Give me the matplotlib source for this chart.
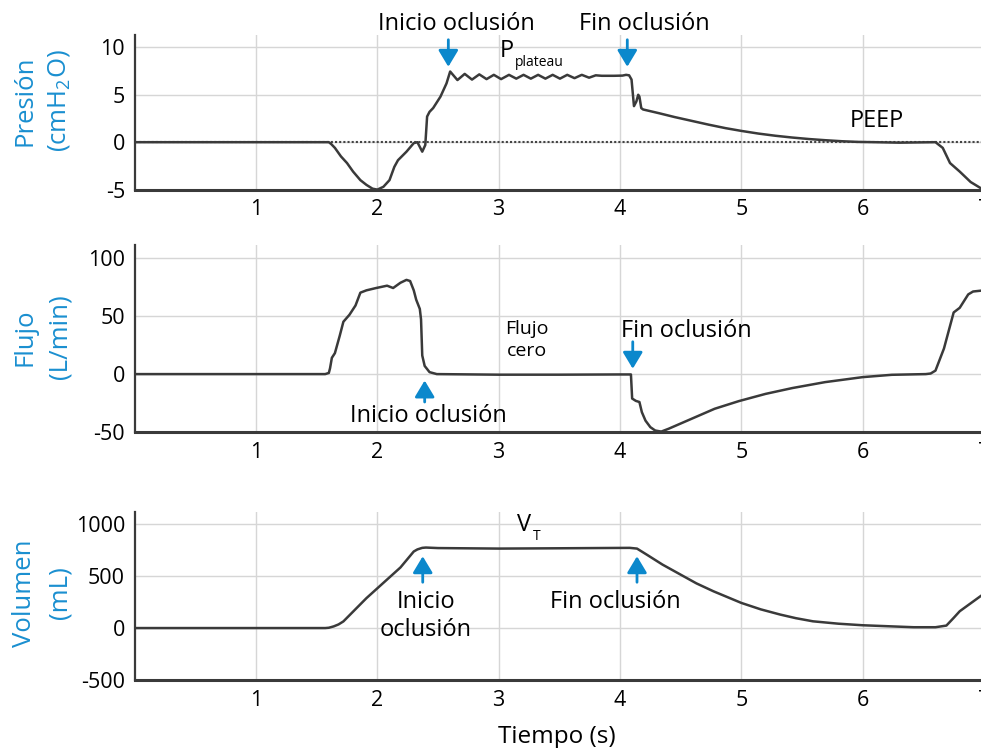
import matplotlib.pyplot as plt

plt.rcParams['font.family'] = 'Open Sans'
plt.rcParams['mathtext.fontset'] = 'custom'
plt.rcParams['mathtext.rm'] = 'Open Sans'
plt.rcParams['mathtext.it'] = 'Open Sans:italic'
plt.rcParams['axes.unicode_minus'] = False

BLUE = '#1a8fd0'
ARROW = '#0b88cc'
LINE = '#3a3a3a'
GRID = '#d6d6d6'

# pressure (cmH2O)
t_pres = [0, 1.60, 1.62, 1.65, 1.70, 1.75, 1.80, 1.86, 1.91, 1.96, 2.00, 2.05,
          2.10, 2.14, 2.17, 2.24, 2.30, 2.33, 2.37, 2.395, 2.41, 2.43, 2.46,
          2.52, 2.57, 2.60, 2.66, 2.72, 2.78, 2.84, 2.90, 2.96, 3.02, 3.085,
          3.145, 3.205, 3.265, 3.325, 3.385, 3.445, 3.505, 3.565, 3.625,
          3.685, 3.745, 3.80, 3.85, 3.95, 4.02, 4.05, 4.075, 4.095, 4.105,
          4.115, 4.135, 4.15, 4.16, 4.175, 4.19, 4.32, 4.45, 4.59, 4.73, 4.87,
          5.00, 5.14, 5.28, 5.42, 5.56, 5.69, 5.83, 5.96, 6.10, 6.30, 6.60,
          6.66, 6.72, 6.80, 6.89, 6.98, 7.0]
pres = [0, 0, -0.2, -0.6, -1.5, -2.2, -3.1, -4.0, -4.5, -4.9, -5.0, -4.7,
        -4.0, -2.6, -1.9, -1.0, -0.1, 0.0, -1.0, -0.3, 2.7, 3.2, 3.6,
        4.8, 6.2, 7.45, 6.55, 7.2, 6.6, 7.15, 6.65, 7.1, 6.65, 7.1,
        6.7, 7.1, 6.7, 7.1, 6.7, 7.1, 6.7, 7.1, 6.75,
        7.1, 6.8, 7.05, 7.0, 7.0, 7.02, 7.1, 7.05, 6.6, 5.2,
        3.8, 4.3, 5.0, 4.8, 3.6, 3.45, 3.06, 2.65, 2.25, 1.85, 1.48,
        1.19, 0.91, 0.68, 0.49, 0.33, 0.21, 0.10, 0.03, 0.0, -0.05, 0.0,
        -0.6, -2.2, -3.1, -4.2, -4.9, -5.0]

# flow (L/min)
t_flow = [0, 1.57, 1.60, 1.61, 1.625, 1.65, 1.69, 1.72, 1.77, 1.82, 1.86,
          1.91, 1.99, 2.08, 2.13, 2.19, 2.24, 2.27, 2.30, 2.32, 2.35, 2.36,
          2.37, 2.39, 2.43, 2.49, 3.0, 3.5, 4.0, 4.09, 4.10, 4.13, 4.16,
          4.18, 4.21, 4.25, 4.29, 4.34, 4.40, 4.59, 4.78, 4.98, 5.20, 5.42,
          5.69, 6.00, 6.24, 6.52, 6.56, 6.60, 6.67, 6.75, 6.80, 6.87, 6.91,
          7.0]
flow = [0, 0, 1, 5, 14, 18, 33, 45, 51, 59, 70,
        72, 74, 76, 74, 78.5, 81, 80, 72, 64, 56, 47,
        16, 7, 1.7, 0, -0.5, -0.5, -0.3, -0.3, -21, -23, -24,
        -32.7, -40, -45.6, -48.5, -49.4, -47, -38.4, -29.8, -23.2, -17, -12,
        -6.9, -2.6, -0.6, 0, 0.5, 3, 22, 53, 57, 68.5, 71,
        72]

# volume (mL)
t_vol = [0, 1.57, 1.60, 1.64, 1.68, 1.72, 1.91, 2.19, 2.30, 2.33, 2.37, 2.40,
         2.5, 3.0, 3.5, 4.08, 4.14, 4.22, 4.35, 4.5, 4.63, 4.77, 5.0, 5.16,
         5.32, 5.45, 5.59, 5.8, 6.0, 6.42, 6.6, 6.69, 6.75, 6.8, 6.97, 7.0]
vol = [0, 0, 3, 16, 35, 64, 288, 583, 737, 757, 772, 775,
       770, 765, 768, 772, 765, 707, 611, 514, 430, 354, 242, 180,
       130, 95, 65, 42, 27, 8, 8, 24, 98, 162, 306, 330]

fig = plt.figure(figsize=(9.81, 7.48), dpi=100)
left, width = 134.7 / 981, (984 - 134.7) / 981
ax_p = fig.add_axes([left, 0.7465, width, 0.2067])
ax_f = fig.add_axes([left, 0.4221, width, 0.2504])
ax_v = fig.add_axes([left, 0.0909, width, 0.2250])


def style(ax, ylim, yticks):
    ax.set_xlim(0, 7)
    ax.set_ylim(*ylim)
    ax.set_xticks(range(1, 8))
    ax.set_yticks(yticks)
    ax.grid(True, color=GRID, lw=1)
    ax.set_axisbelow(True)
    for s in ('top', 'right'):
        ax.spines[s].set_visible(False)
    ax.spines['left'].set_color(LINE)
    ax.spines['left'].set_linewidth(1.6)
    ax.spines['bottom'].set_color(LINE)
    ax.spines['bottom'].set_linewidth(2.2)
    ax.tick_params(length=0, labelsize=15.5, pad=7, colors='black')


def arrow(ax, x, y0, y1):
    ax.annotate('', xy=(x, y1), xytext=(x, y0), annotation_clip=False,
                arrowprops=dict(arrowstyle='-|>,head_length=0.5,head_width=0.3',
                                mutation_scale=20, color=ARROW, lw=2.0,
                                shrinkA=0, shrinkB=0))


style(ax_p, (-5, 11.3), [-5, 0, 5, 10])
style(ax_f, (-50, 111), [-50, 0, 50, 100])
style(ax_v, (-500, 1120), [-500, 0, 500, 1000])

# dotted zero line on pressure panel
ax_p.axhline(0, color='#444444', lw=1.5, ls=(0, (1.0, 1.0)), zorder=1.5)

for ax, t, y in ((ax_p, t_pres, pres), (ax_f, t_flow, flow), (ax_v, t_vol, vol)):
    ax.plot(t, y, color=LINE, lw=1.8, zorder=3, solid_joinstyle='round')

# pressure annotations
ax_p.text(2.65, 11.8, 'Inicio oclusión', ha='center', va='baseline', fontsize=17)
ax_p.text(4.20, 11.8, 'Fin oclusión', ha='center', va='baseline', fontsize=17)
arrow(ax_p, 2.585, 10.8, 7.95)
arrow(ax_p, 4.06, 10.8, 7.95)
ax_p.text(3.01, 8.97, 'P', ha='left', va='baseline', fontsize=17)
ax_p.text(3.135, 8.0, 'plateau', ha='left', va='baseline', fontsize=10)
ax_p.text(6.115, 2.25, 'PEEP', ha='center', va='center', fontsize=17)

# flow annotations
ax_f.text(3.23, 34.7, 'Flujo', ha='center', va='baseline', fontsize=14)
ax_f.text(3.23, 15.2, 'cero', ha='center', va='baseline', fontsize=14)
ax_f.text(4.55, 31.8, 'Fin oclusión', ha='center', va='baseline', fontsize=17)
arrow(ax_f, 4.105, 27.8, 4.6)
ax_f.text(2.42, -40.8, 'Inicio oclusión', ha='center', va='baseline', fontsize=17)
arrow(ax_f, 2.39, -24, -5.5)

# volume annotations
ax_v.text(3.15, 932, 'V', ha='left', va='baseline', fontsize=17)
ax_v.text(3.28, 852, 'T', ha='left', va='baseline', fontsize=10)
ax_v.text(2.40, 194, 'Inicio', ha='center', va='baseline', fontsize=17)
ax_v.text(2.40, -79, 'oclusión', ha='center', va='baseline', fontsize=17)
arrow(ax_v, 2.374, 441, 691)
ax_v.text(3.96, 194, 'Fin oclusión', ha='center', va='baseline', fontsize=17)
arrow(ax_v, 4.14, 441, 691)

# y labels (two lines each)
for yc, l1, l2 in ((101, 'Presión', '(cmH$_2$O)'),
                   (337, 'Flujo', '(L/min)'),
                   (593, 'Volumen', '(mL)')):
    fig.text(25 / 981, 1 - yc / 748, l1, rotation=90, ha='center',
             va='center', fontsize=18.5, color=BLUE)
    fig.text(59.5 / 981, 1 - yc / 748, l2, rotation=90, ha='center',
             va='center', fontsize=18.5, color=BLUE)

fig.text(556.7 / 981, 1 - 743 / 748, 'Tiempo (s)', ha='center',
         va='baseline', fontsize=17.5)

fig.savefig('out.png', dpi=100)
